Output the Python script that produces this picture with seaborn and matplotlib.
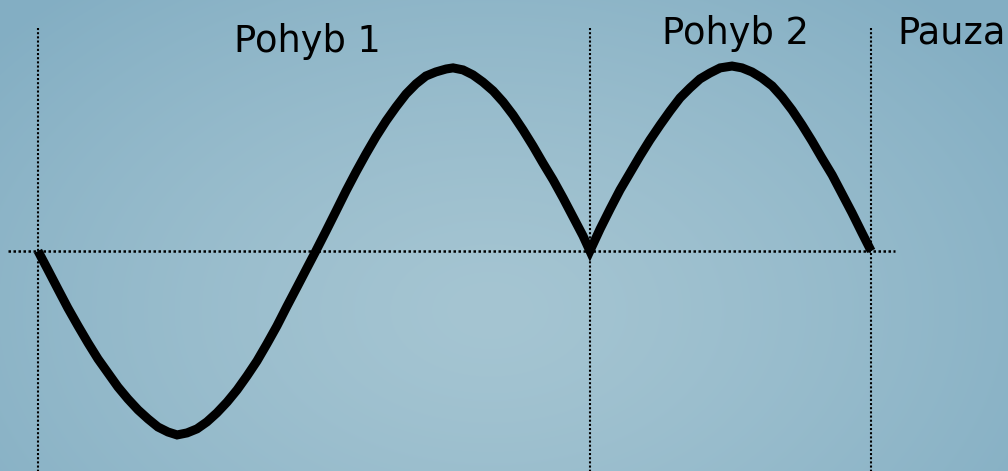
import numpy as np
import matplotlib
matplotlib.use("Agg")
import matplotlib.pyplot as plt
import seaborn as sns

# Data
# time (one unit = half of "Pohyb 1") and displacement (amplitude = 1)
time = [0.000, 0.036, 0.072, 0.108, 0.145, 0.181, 0.217, 0.253, 0.289, 0.325,
        0.362, 0.398, 0.434, 0.470, 0.503,
        0.539, 0.575, 0.611, 0.647, 0.684, 0.720, 0.756, 0.792, 0.828, 0.864,
        0.901, 0.937, 0.973, 1.005,
        1.042, 1.078, 1.114, 1.150, 1.186, 1.222, 1.259, 1.295, 1.331, 1.367,
        1.403, 1.439, 1.476, 1.501,
        1.537, 1.573, 1.609, 1.646, 1.682, 1.718, 1.754, 1.790, 1.826, 1.863,
        1.899, 1.935, 1.971, 1.996,
        2.033, 2.069, 2.105, 2.141, 2.177, 2.213, 2.250, 2.286, 2.322, 2.358,
        2.394, 2.430, 2.467, 2.510,
        2.546, 2.582, 2.618, 2.655, 2.691, 2.727, 2.763, 2.799, 2.835, 2.872,
        2.908, 2.944, 2.980, 3.013]
displacement = [0.000, -0.103, -0.207, -0.310, -0.408, -0.500, -0.587, -0.663, -0.739, -0.804,
                -0.864, -0.913, -0.957, -0.984, -1.000,
                -0.989, -0.967, -0.929, -0.880, -0.821, -0.755, -0.679, -0.598, -0.505, -0.408,
                -0.299, -0.196, -0.092, 0.000,
                0.109, 0.217, 0.326, 0.429, 0.527, 0.620, 0.707, 0.783, 0.853, 0.908,
                0.951, 0.973, 0.989, 0.995,
                0.984, 0.957, 0.918, 0.870, 0.810, 0.739, 0.658, 0.571, 0.478, 0.386,
                0.288, 0.185, 0.082, 0.000,
                0.120, 0.228, 0.332, 0.424, 0.516, 0.603, 0.685, 0.761, 0.832, 0.886,
                0.935, 0.967, 0.995, 1.005,
                0.995, 0.973, 0.940, 0.897, 0.837, 0.766, 0.685, 0.598, 0.505, 0.413,
                0.310, 0.207, 0.098, 0.000]

# phase boundaries and labels
boundaries = [0.0, 1.996, 3.013]
labels = ["Pohyb 1", "Pohyb 2", "Pauza"]
label_x = [0.975, 2.524, 3.107]
label_y = [1.082, 1.125, 1.125]
label_ha = ["center", "center", "left"]

sns.set_style("white")
plt.rcParams['font.family'] = ['DejaVu Sans']

fig = plt.figure(figsize=(10.08, 4.71), dpi=100)

# radial gradient background
bg = fig.add_axes([0, 0, 1, 1])
bg.axis('off')
H, W = 471, 1008
yy, xx = np.mgrid[0:H, 0:W]
r = np.sqrt(((xx - 490) / 650.0) ** 2 + ((yy - 310) / 430.0) ** 2)
r = np.clip(r, 0, 1) ** 1.3
c_in = np.array([165, 197, 210]) / 255.0
c_out = np.array([131, 174, 195]) / 255.0
img = c_in[None, None, :] * (1 - r[..., None]) + c_out[None, None, :] * r[..., None]
bg.imshow(img, aspect='auto', extent=[0, 1, 0, 1])
bg.set_xlim(0, 1)
bg.set_ylim(0, 1)

ax = fig.add_axes([0, 0, 1, 1])
ax.patch.set_alpha(0)
ax.set_xlim(-0.1374, 3.508)
ax.set_ylim(-1.196, 1.364)
ax.axis('off')

# dotted reference lines
ax.plot([-0.108, 3.099], [0, 0], color='black', lw=1.8, linestyle=(0, (1, 1)))
for b in boundaries:
    ax.plot([b, b], [1.21, -1.25], color='black', lw=1.5, linestyle=(0, (1, 1)))

sns.lineplot(x=time, y=displacement, ax=ax, color='black', lw=6.5,
             sort=False, solid_joinstyle='miter', solid_capstyle='butt')

for t, x, y, ha in zip(labels, label_x, label_y, label_ha):
    ax.text(x, y, t, fontsize=26.5, ha=ha, va='baseline', color='black')

fig.savefig("out.png", dpi=100)
